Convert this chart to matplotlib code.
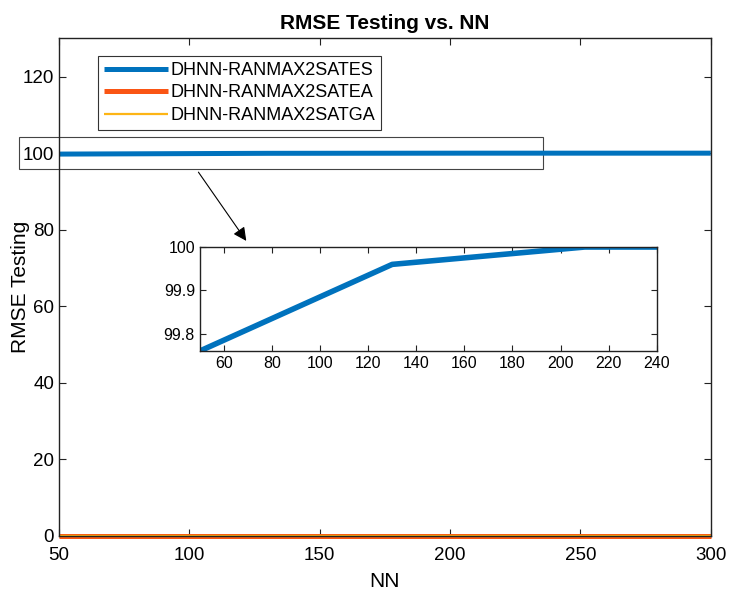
import matplotlib.pyplot as plt
from matplotlib.patches import Rectangle

plt.rcParams['font.family'] = ['Liberation Sans', 'DejaVu Sans']

# data
nn = [50, 130, 210, 300]
rmse_es = [99.76, 99.96, 100.0, 100.0]
rmse_ea = [0, 0, 0, 0]
rmse_ga = [0, 0, 0, 0]
labels = ['DHNN-RANMAX2SATES', 'DHNN-RANMAX2SATEA', 'DHNN-RANMAX2SATGA']

c_es = '#0072BD'
c_ea = '#FA5514'
c_ga = '#FDB515'

fig = plt.figure(figsize=(7.29, 5.96), dpi=100)
ax = fig.add_axes([0.081, 0.1007, 0.894, 0.835])

ax.plot(nn, rmse_es, color=c_es, lw=3.6, label=labels[0], solid_capstyle='butt')
ax.plot(nn, rmse_ea, color=c_ea, lw=3.6, label=labels[1], solid_capstyle='butt', clip_on=False)
ax.plot(nn, rmse_ga, color=c_ga, lw=1.6, label=labels[2], solid_capstyle='butt', clip_on=False)

ax.set_xlim(50, 300)
ax.set_ylim(0, 130)
ax.set_xticks([50, 100, 150, 200, 250, 300])
ax.set_yticks([0, 20, 40, 60, 80, 100, 120])
ax.tick_params(direction='in', top=True, right=True, labelsize=13.5, length=5, color='#222222')
ax.tick_params(axis='x', pad=8)
for s in ax.spines.values():
    s.set_linewidth(1.0)
    s.set_color('#222222')
ax.set_xlabel('NN', fontsize=15, labelpad=6)
ax.set_ylabel('RMSE Testing', fontsize=15)
ax.yaxis.set_label_coords(-0.045, 0.5)
ax.set_title('RMSE Testing vs. NN', fontsize=15, fontweight='bold', pad=7)

leg = ax.legend(loc='upper left', bbox_to_anchor=(0.06, 0.965), fontsize=13,
                fancybox=False, edgecolor='#333333', framealpha=1,
                handlelength=3.5, handletextpad=0.15, borderpad=0.35,
                labelspacing=0.3, borderaxespad=0)
leg.get_frame().set_linewidth(0.8)

# zoom box around the ES line
box = Rectangle((34.7, 95.8), 201, 8.4, fill=False, edgecolor='#444444', lw=0.8, clip_on=False)
ax.add_patch(box)
ax.annotate('', xy=(0.340, 0.592), xytext=(0.270, 0.715), xycoords='figure fraction',
            arrowprops=dict(arrowstyle='-|>', color='black', lw=0.8, mutation_scale=20))

ins = fig.add_axes([0.274, 0.411, 0.627, 0.1745])
ins.plot(nn, rmse_es, color=c_es, lw=4)
ins.set_xlim(50, 240)
ins.set_ylim(99.76, 100)
ins.set_xticks(range(60, 241, 20))
ins.set_yticks([99.8, 99.9, 100])
ins.set_yticklabels(['99.8', '99.9', '100'])
ins.tick_params(direction='in', top=True, right=True, labelsize=11.5, length=4, color='#222222')
for s in ins.spines.values():
    s.set_linewidth(1.0)
    s.set_color('#222222')

fig.savefig('out.png', dpi=100)
